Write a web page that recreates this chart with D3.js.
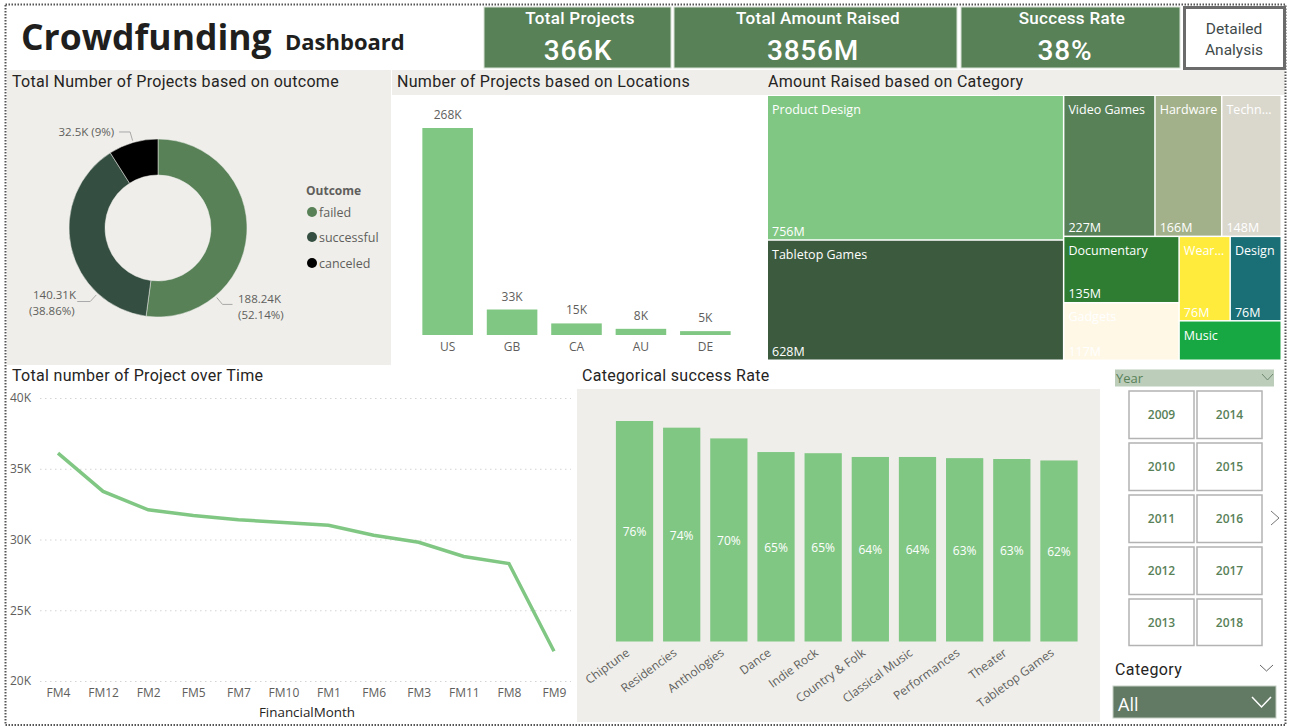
<!DOCTYPE html>
<html>
<head>
<meta charset="utf-8">
<script src="https://cdn.jsdelivr.net/npm/d3@7"></script>
<style>
  html, body { margin: 0; padding: 0; background: #fff; overflow: hidden; }
  text { font-family: "Roboto", sans-serif; }
  .seg { font-family: "Open Sans", sans-serif; }
  .panelTitle { font-size: 16px; letter-spacing: 0.3px; fill: #252423; }
  .axis path, .axis line { display: none; }
  .grid path { display: none; }
  .grid line { stroke: #d4d4d4; stroke-dasharray: 1.5 3.5; }
</style>
</head>
<body>
<div id="chart-container"></div>
<script>
// values
const kpiLabels = ["Total Projects", "Total Amount Raised", "Success Rate"];
const kpiValues = ["366K", "3856M", "38%"];

const outcomes = ["failed", "successful", "canceled"];
const outcomeValues = [188.24, 140.31, 32.5];
const outcomeLabels = [["188.24K", "(52.14%)"], ["140.31K", "(38.86%)"], ["32.5K (9%)"]];
const outcomeColors = ["#588158", "#344e41", "#000000"];

const locations = ["US", "GB", "CA", "AU", "DE"];
const locationValues = [268, 33, 15, 8, 5];

const months = ["FM4", "FM12", "FM2", "FM5", "FM7", "FM10", "FM1", "FM6", "FM3", "FM11", "FM8", "FM9"];
const monthValues = [36.1, 33.4, 32.1, 31.7, 31.4, 31.2, 31.0, 30.3, 29.8, 28.8, 28.3, 22.1];
const monthTicks = [20, 25, 30, 35, 40];

const rateCategories = ["Chiptune", "Residencies", "Anthologies", "Dance", "Indie Rock", "Country & Folk", "Classical Music", "Performances", "Theater", "Tabletop Games"];
const rateValues = [76, 73.7, 70, 65.3, 64.9, 63.6, 63.6, 63.2, 62.9, 62.4];

const treeNames = ["Product Design", "Tabletop Games", "Video Games", "Hardware", "Techn...", "Documentary", "Gadgets", "Wear...", "Design", "Music"];
const treeValues = [756, 628, 227, 166, 148, 135, 117, 76, 76, 71];
const treeColors = ["#81c784", "#3b5a3e", "#588158", "#a3b18a", "#dad7cd", "#2e7d32", "#fff8e7", "#ffeb3b", "#1a6f77", "#18a843"];

const yearsLeft = [2009, 2010, 2011, 2012, 2013];
const yearsRight = [2014, 2015, 2016, 2017, 2018];

const green = "#81c784";
const labelGrey = "#605e5c";

const svg = d3.select("#chart-container")
    .append("svg")
    .attr("width", 1291)
    .attr("height", 728)
    .style("display", "block");

// panel backgrounds
function panel(x, y, w, h, fill) {
    svg.append("rect").attr("x", x).attr("y", y).attr("width", w).attr("height", h).attr("fill", fill);
}
const panelBg = "#efeeea";
panel(7, 70, 384, 295, panelBg);
panel(392, 70, 368, 25, panelBg);
panel(760, 70, 525, 25, panelBg);
panel(577, 389, 523, 333, panelBg);

// dotted report border
svg.append("rect")
    .attr("x", 5.5).attr("y", 4.5).attr("width", 1280).attr("height", 720.5)
    .attr("fill", "none")
    .attr("stroke", "#555")
    .attr("stroke-width", 2)
    .attr("stroke-dasharray", "1.5 1.5");

// header
svg.append("text").attr("class", "seg").attr("x", 21).attr("y", 50)
    .attr("font-size", 35.5).attr("font-weight", 700).attr("fill", "#201f1e").text("Crowdfunding");
svg.append("text").attr("class", "seg").attr("x", 285).attr("y", 50)
    .attr("font-size", 22).attr("font-weight", 700).attr("fill", "#201f1e").text("Dashboard");

// kpi cards
const cardX = [484, 674, 961];
const cardW = [187, 283, 219];
const cardLabelX = [580, 818, 1072];
const cardValueX = [578, 813, 1065];
kpiLabels.forEach(function (label, i) {
    svg.append("rect").attr("x", cardX[i]).attr("y", 7).attr("width", cardW[i]).attr("height", 61)
        .attr("fill", "#588158").attr("stroke", "#d9e2d6").attr("stroke-width", 1);
    svg.append("text").attr("x", cardLabelX[i]).attr("y", 24)
        .attr("text-anchor", "middle").attr("font-size", 17).attr("font-weight", 500)
        .attr("letter-spacing", 0.3).attr("fill", "#fff").text(label);
    svg.append("text").attr("x", cardValueX[i]).attr("y", 60)
        .attr("text-anchor", "middle").attr("font-size", 28).attr("font-weight", 500)
        .attr("letter-spacing", 0.8).attr("fill", "#fff").text(kpiValues[i]);
});

// button
svg.append("rect").attr("x", 1184.5).attr("y", 7.5).attr("width", 100).attr("height", 61)
    .attr("fill", "#fff").attr("stroke", "#6b6b6b").attr("stroke-width", 3);
["Detailed", "Analysis"].forEach(function (t, i) {
    svg.append("text").attr("x", 1234).attr("y", 34 + i * 21)
        .attr("text-anchor", "middle").attr("font-size", 15.5).attr("fill", "#3f4a4a").text(t);
});

// panel titles
const titles = [
    ["Total Number of Projects based on outcome", 12, 87],
    ["Number of Projects based on Locations", 397, 87],
    ["Amount Raised based on Category", 768, 87],
    ["Total number of Project over Time", 12, 381],
    ["Categorical success Rate", 582, 381]
];
titles.forEach(function (t) {
    svg.append("text").attr("class", "panelTitle").attr("x", t[1]).attr("y", t[2]).text(t[0]);
});

// donut
const donut = svg.append("g").attr("transform", "translate(158,228)");
const pie = d3.pie().sort(null)(outcomeValues);
const arc = d3.arc().innerRadius(53).outerRadius(89);
donut.selectAll("path").data(pie).enter().append("path")
    .attr("d", arc)
    .attr("fill", (d, i) => outcomeColors[i])
    .attr("stroke", panelBg)
    .attr("stroke-width", 0.5);

// leader lines leave the slice at these fractions of its sweep, then go sideways
const leaderFrac = [0.745, 0.25, 0.5];
const leaderEnd = [10, -13, -11];
donut.selectAll(".leader").data(pie).enter().append("polyline")
    .attr("class", "leader")
    .attr("fill", "none")
    .attr("stroke", "#a9a9a9")
    .attr("points", function (d, i) {
        const a = d.startAngle + (d.endAngle - d.startAngle) * leaderFrac[i];
        const near = d3.pointRadial(a, 91);
        const far = d3.pointRadial(a, 100);
        return [near, far, [far[0] + leaderEnd[i], far[1]]].map(p => p.join(",")).join(" ");
    });

const donutText = [[238, 303], [29, 299], [58.5, 136]];
outcomeLabels.forEach(function (lines, i) {
    lines.forEach(function (t, j) {
        svg.append("text").attr("class", "seg")
            .attr("x", donutText[i][0] + (i == 1 && j == 0 ? 4 : 0))
            .attr("y", donutText[i][1] + j * 15.5)
            .attr("font-size", 11.5).attr("fill", labelGrey).text(t);
    });
});

// outcome legend
svg.append("text").attr("class", "seg").attr("x", 306).attr("y", 195)
    .attr("font-size", 12).attr("font-weight", 700).attr("fill", labelGrey).text("Outcome");
const legendY = [212, 237, 263];
outcomes.forEach(function (name, i) {
    svg.append("circle").attr("cx", 312).attr("cy", legendY[i]).attr("r", 5).attr("fill", outcomeColors[i]);
    svg.append("text").attr("class", "seg").attr("x", 319).attr("y", legendY[i] + 5)
        .attr("font-size", 12.5).attr("fill", labelGrey).text(name);
});

// locations bars
const locX = d3.scaleBand().domain(locations).range([408.5, 744.5]).padding(0.215);
const locY = d3.scaleLinear().domain([0, 268]).range([335, 128]);
svg.selectAll(".locBar").data(locations).enter().append("rect")
    .attr("class", "locBar")
    .attr("x", d => locX(d))
    .attr("width", locX.bandwidth())
    .attr("y", (d, i) => locY(locationValues[i]))
    .attr("height", (d, i) => locY(0) - locY(locationValues[i]))
    .attr("fill", green);
svg.selectAll(".locVal").data(locations).enter().append("text")
    .attr("class", "seg locVal")
    .attr("x", d => locX(d) + locX.bandwidth() / 2)
    .attr("y", (d, i) => locY(locationValues[i]) - 9)
    .attr("text-anchor", "middle").attr("font-size", 12).attr("fill", labelGrey)
    .text((d, i) => locationValues[i] + "K");
const locAxis = svg.append("g").attr("class", "axis seg").attr("transform", "translate(0,335)")
    .call(d3.axisBottom(locX).tickSize(0).tickPadding(7));
locAxis.selectAll("text").attr("class", "seg").attr("font-size", 12).attr("fill", labelGrey);

// treemap, nested so that the splits come out as in the original
const tv = (i) => ({ name: treeNames[i], value: treeValues[i], color: treeColors[i] });
const treeData = { children: [
    { children: [tv(0), tv(1)] },
    { children: [
        { children: [tv(2), tv(3), tv(4)] },
        { children: [
            { children: [tv(5), tv(6)] },
            { children: [{ children: [tv(7), tv(8)] }, tv(9)] }
        ] }
    ] }
] };
const treeRoot = d3.hierarchy(treeData).sum(d => d.value || 0);
d3.treemap().tile(d3.treemapSliceDice).size([514, 265])(treeRoot);
const cells = svg.append("g").attr("transform", "translate(768,96)")
    .selectAll("g").data(treeRoot.leaves()).enter().append("g")
    .attr("transform", d => `translate(${d.x0},${d.y0})`);
cells.append("rect")
    .attr("width", d => d.x1 - d.x0 - 1.5)
    .attr("height", d => d.y1 - d.y0 - 1.5)
    .attr("fill", d => d.data.color);
cells.append("text").attr("class", "seg")
    .attr("x", 4).attr("y", 18)
    .attr("font-size", 12.5).attr("fill", "#fff")
    .text(d => d.data.name);
cells.filter(d => d.data.name != "Music").append("text").attr("class", "seg")
    .attr("x", 4).attr("y", d => d.y1 - d.y0 - 5)
    .attr("font-size", 12.5).attr("fill", "#fff")
    .text(d => d.data.value + "M");

// line chart
const lineX = d3.scalePoint().domain(months).range([58, 554]);
const lineY = d3.scaleLinear().domain([20, 40]).range([681, 398]);
const lineAxisY = svg.append("g").attr("class", "grid").attr("transform", "translate(40,0)")
    .call(d3.axisLeft(lineY).tickValues(monthTicks).tickFormat(d => d + "K").tickSize(-531).tickPadding(9));
lineAxisY.selectAll("text").attr("class", "seg").attr("font-size", 12).attr("fill", labelGrey);
const lineAxisX = svg.append("g").attr("class", "axis").attr("transform", "translate(0,681)")
    .call(d3.axisBottom(lineX).tickSize(0).tickPadding(7));
lineAxisX.selectAll("text").attr("class", "seg").attr("font-size", 12).attr("fill", labelGrey);
svg.append("text").attr("class", "seg").attr("x", 307).attr("y", 717)
    .attr("text-anchor", "middle").attr("font-size", 13.4).attr("fill", "#252423").text("FinancialMonth");
svg.append("path")
    .attr("d", d3.line().x((d, i) => lineX(months[i])).y(d => lineY(d))(monthValues))
    .attr("fill", "none")
    .attr("stroke", green)
    .attr("stroke-width", 3.5);

// success rate bars
const rateX = d3.scaleBand().domain(rateCategories).range([606, 1087.5]).padding(0.21);
const rateY = d3.scaleLinear().domain([0, 76]).range([641.5, 421]);
svg.selectAll(".rateBar").data(rateCategories).enter().append("rect")
    .attr("class", "rateBar")
    .attr("x", d => rateX(d))
    .attr("width", rateX.bandwidth())
    .attr("y", (d, i) => rateY(rateValues[i]))
    .attr("height", (d, i) => rateY(0) - rateY(rateValues[i]))
    .attr("fill", green);
svg.selectAll(".rateVal").data(rateCategories).enter().append("text")
    .attr("class", "seg rateVal")
    .attr("x", d => rateX(d) + rateX.bandwidth() / 2)
    .attr("y", (d, i) => (rateY(rateValues[i]) + rateY(0)) / 2 + 5)
    .attr("text-anchor", "middle").attr("font-size", 12).attr("fill", "#fff")
    .text((d, i) => Math.round(rateValues[i]) + "%");
const rateAxis = svg.append("g").attr("class", "axis").attr("transform", "translate(0,641.5)")
    .call(d3.axisBottom(rateX).tickSize(0).tickPadding(0));
rateAxis.selectAll("text").attr("class", "seg")
    .attr("font-size", 12).attr("fill", labelGrey)
    .attr("text-anchor", "end")
    .attr("transform", "translate(-4,13) rotate(-36)")
    .attr("dy", 0).attr("y", 0);

// year slicer
svg.append("rect").attr("x", 1115).attr("y", 369.5).attr("width", 159).attr("height", 17).attr("fill", "#bccdba");
svg.append("text").attr("class", "seg").attr("x", 1116).attr("y", 383)
    .attr("font-size", 13).attr("fill", "#588158").text("Year");
function chevron(x, y, w, h, color, sw) {
    svg.append("polyline")
        .attr("points", `${x},${y} ${x + w / 2},${y + h} ${x + w},${y}`)
        .attr("fill", "none").attr("stroke", color).attr("stroke-width", sw);
}
chevron(1262, 374, 11, 6, "#6f8a6f", 1);
const rowY = d3.scaleBand().domain(yearsLeft.map((d, i) => i)).range([390, 650]);
[yearsLeft, yearsRight].forEach(function (col, c) {
    col.forEach(function (year, i) {
        const x = 1129 + c * 68;
        svg.append("rect").attr("x", x).attr("y", rowY(i) + 1).attr("width", 65).attr("height", i == 4 ? 46.5 : 47.5)
            .attr("fill", "#fff").attr("stroke", "#b3b3b3").attr("stroke-width", 1.5);
        svg.append("text").attr("class", "seg").attr("x", x + 32.5).attr("y", rowY(i) + 29)
            .attr("text-anchor", "middle").attr("font-size", 12).attr("font-weight", 600)
            .attr("fill", "#588158").text(year);
    });
});
svg.append("polyline").attr("points", "1271,511 1279,518 1271,525")
    .attr("fill", "none").attr("stroke", "#777").attr("stroke-width", 1);

// category slicer
svg.append("text").attr("x", 1115). attr("y", 675).attr("font-size", 16)
    .attr("letter-spacing", 0.4).attr("fill", "#252423").text("Category");
chevron(1260, 665, 13, 6, "#666", 1);
svg.append("rect").attr("x", 1113).attr("y", 686).attr("width", 163).attr("height", 32)
    .attr("fill", "#627a64").attr("stroke", "#c5cfc5");
svg.append("text").attr("class", "seg").attr("x", 1118).attr("y", 711)
    .attr("font-size", 18).attr("fill", "#fff").text("All");
chevron(1252, 697, 19, 10, "#fff", 1.5);
</script>
</body>
</html>
